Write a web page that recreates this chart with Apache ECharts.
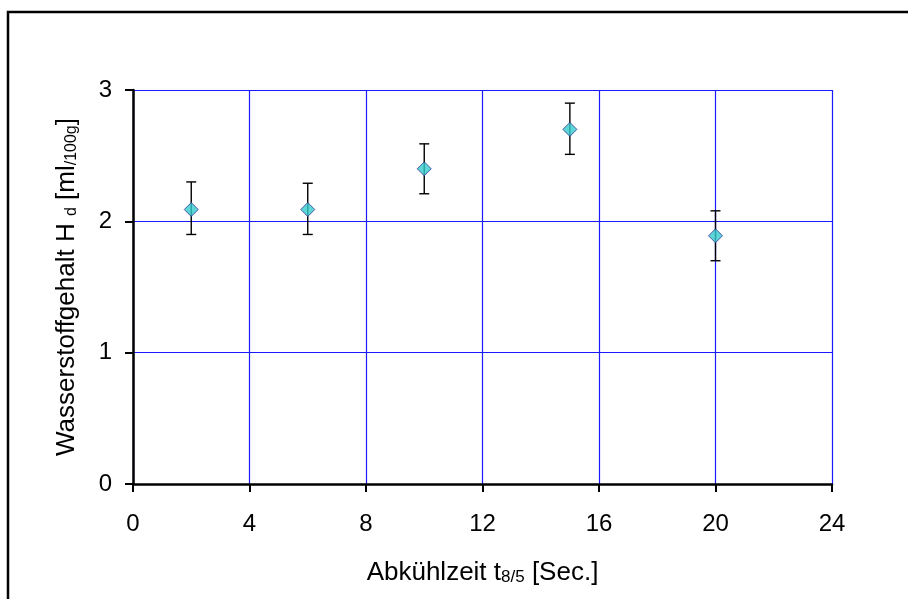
<!DOCTYPE html>
<html>
<head>
<meta charset="utf-8">
<script src="https://cdn.jsdelivr.net/npm/echarts@6/dist/echarts.min.js"></script>
<style>
html,body{margin:0;padding:0;background:#fff;}
#chart{width:908px;height:599px;}
</style>
</head>
<body>
<div id="chart"></div>
<script>
// Data
const xValues = [2, 6, 10, 15, 20];
const yValues = [2.09, 2.09, 2.40, 2.70, 1.89];
const errLow  = [1.90, 1.90, 2.21, 2.51, 1.70];
const errHigh = [2.30, 2.29, 2.59, 2.90, 2.08];
const xTicks = [0, 4, 8, 12, 16, 20, 24];
const yTicks = [0, 1, 2, 3];

const FONT = '"Liberation Sans", Arial, sans-serif';
const chart = echarts.init(document.getElementById('chart'), null, {renderer: 'canvas'});

const pointData = xValues.map((x, i) => [x, yValues[i]]);
const errData = xValues.map((x, i) => [x, errLow[i], errHigh[i]]);

const option = {
  backgroundColor: '#fff',
  animation: false,
  graphic: [{
    type: 'rect',
    shape: {x: 8, y: 12, width: 960, height: 640},
    style: {fill: 'none', stroke: '#000', lineWidth: 2.5},
    silent: true,
    z: -10
  }],
  grid: {left: 133, top: 90, right: 76, bottom: 115, containLabel: false},
  xAxis: {
    type: 'value',
    min: xTicks[0],
    max: xTicks[xTicks.length - 1],
    interval: 4,
    name: '{a|Abkühlzeit t}{s|8/5}{a| [Sec.]}',
    nameLocation: 'middle',
    nameGap: 76,
    nameTextStyle: {
      rich: {
        a: {fontFamily: FONT, fontSize: 26, color: '#000'},
        s: {fontFamily: FONT, fontSize: 17, color: '#000', verticalAlign: 'bottom', padding: [9, 0, 0, 0]}
      }
    },
    axisLine: {show: true, onZero: false, lineStyle: {color: '#000', width: 2.5}},
    axisTick: {show: true, inside: false, length: 8, lineStyle: {color: '#000', width: 2}},
    axisLabel: {margin: 28, fontFamily: FONT, fontSize: 24, color: '#000'},
    splitLine: {show: true, lineStyle: {color: '#1a1aff', width: 1.2}}
  },
  yAxis: {
    type: 'value',
    min: yTicks[0],
    max: yTicks[yTicks.length - 1],
    interval: 1,
    name: '{a|Wasserstoffgehalt H }{s|d}{a| [ml}{s|/100g}{a|]}',
    nameLocation: 'middle',
    nameRotate: 90,
    nameGap: 53,
    nameTextStyle: {
      rich: {
        a: {fontFamily: FONT, fontSize: 26, color: '#000'},
        s: {fontFamily: FONT, fontSize: 16, color: '#000', verticalAlign: 'bottom', padding: [9, 0, 0, 0]}
      }
    },
    axisLine: {show: true, onZero: false, lineStyle: {color: '#000', width: 2.5}},
    axisTick: {show: true, inside: false, length: 8, lineStyle: {color: '#000', width: 2}},
    axisLabel: {margin: 21, fontFamily: FONT, fontSize: 24, color: '#000'},
    splitLine: {show: true, lineStyle: {color: '#1a1aff', width: 1.2}}
  },
  series: [
    {
      type: 'custom',
      data: errData,
      z: 3,
      renderItem: function (params, api) {
        const x = api.value(0);
        const lo = api.coord([x, api.value(1)]);
        const hi = api.coord([x, api.value(2)]);
        const cap = 5;
        const style = {stroke: '#000', lineWidth: 1.4};
        return {
          type: 'group',
          children: [
            {type: 'line', shape: {x1: lo[0], y1: lo[1], x2: hi[0], y2: hi[1]}, style: style},
            {type: 'line', shape: {x1: hi[0] - cap, y1: hi[1], x2: hi[0] + cap, y2: hi[1]}, style: style},
            {type: 'line', shape: {x1: lo[0] - cap, y1: lo[1], x2: lo[0] + cap, y2: lo[1]}, style: style}
          ]
        };
      }
    },
    {
      type: 'scatter',
      data: pointData,
      symbol: 'diamond',
      symbolSize: [14, 14],
      z: 5,
      itemStyle: {color: '#33cccc', borderColor: '#333399', borderWidth: 1}
    }
  ]
};
chart.setOption(option);
</script>
</body>
</html>
